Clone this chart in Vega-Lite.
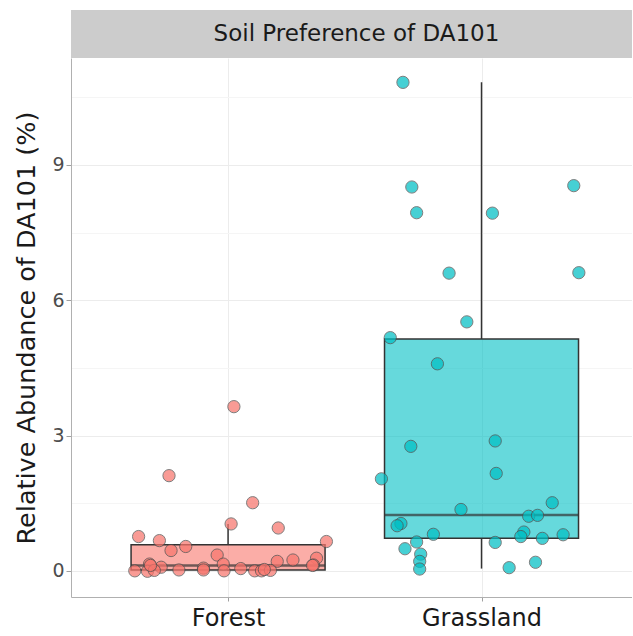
{
  "$schema": "https://vega.github.io/schema/vega-lite/v6.json",
  "autosize": "pad",
  "padding": {"left": 14, "top": 10, "right": 0, "bottom": 2},
  "background": "white",
  "bounds": "flush",
  "spacing": 0,
  "config": {
    "font": "DejaVu Sans",
    "view": {"stroke": null},
    "axis": {"labelFont": "DejaVu Sans", "titleFont": "DejaVu Sans"}
  },
  "datasets": {
    "pts": [
      {"soil": "Forest", "x": 1.023, "abundance": 3.64},
      {"soil": "Forest", "x": 0.767, "abundance": 2.11},
      {"soil": "Forest", "x": 1.097, "abundance": 1.51},
      {"soil": "Forest", "x": 1.012, "abundance": 1.04},
      {"soil": "Forest", "x": 1.198, "abundance": 0.95},
      {"soil": "Forest", "x": 0.647, "abundance": 0.76},
      {"soil": "Forest", "x": 0.729, "abundance": 0.67},
      {"soil": "Forest", "x": 1.388, "abundance": 0.65},
      {"soil": "Forest", "x": 0.833, "abundance": 0.54},
      {"soil": "Forest", "x": 0.775, "abundance": 0.45},
      {"soil": "Forest", "x": 0.957, "abundance": 0.35},
      {"soil": "Forest", "x": 1.349, "abundance": 0.28},
      {"soil": "Forest", "x": 1.256, "abundance": 0.24},
      {"soil": "Forest", "x": 1.194, "abundance": 0.21},
      {"soil": "Forest", "x": 0.69, "abundance": 0.15},
      {"soil": "Forest", "x": 1.337, "abundance": 0.13},
      {"soil": "Forest", "x": 0.981, "abundance": 0.15},
      {"soil": "Forest", "x": 0.736, "abundance": 0.08},
      {"soil": "Forest", "x": 0.903, "abundance": 0.06},
      {"soil": "Forest", "x": 0.632, "abundance": 0.0},
      {"soil": "Forest", "x": 0.682, "abundance": -0.01},
      {"soil": "Forest", "x": 0.709, "abundance": 0.01},
      {"soil": "Forest", "x": 0.806, "abundance": 0.02},
      {"soil": "Forest", "x": 0.984, "abundance": 0.0},
      {"soil": "Forest", "x": 1.105, "abundance": 0.0},
      {"soil": "Forest", "x": 1.132, "abundance": 0.0},
      {"soil": "Forest", "x": 1.167, "abundance": 0.01},
      {"soil": "Forest", "x": 0.694, "abundance": 0.12},
      {"soil": "Forest", "x": 1.143, "abundance": 0.03},
      {"soil": "Forest", "x": 1.05, "abundance": 0.05},
      {"soil": "Forest", "x": 1.333, "abundance": 0.12},
      {"soil": "Forest", "x": 0.903, "abundance": 0.02},
      {"soil": "Grassland", "x": 1.69, "abundance": 10.83},
      {"soil": "Grassland", "x": 1.725, "abundance": 8.51},
      {"soil": "Grassland", "x": 2.364, "abundance": 8.54},
      {"soil": "Grassland", "x": 1.744, "abundance": 7.94},
      {"soil": "Grassland", "x": 2.043, "abundance": 7.93},
      {"soil": "Grassland", "x": 1.872, "abundance": 6.6},
      {"soil": "Grassland", "x": 2.384, "abundance": 6.61},
      {"soil": "Grassland", "x": 1.942, "abundance": 5.52},
      {"soil": "Grassland", "x": 1.64, "abundance": 5.17},
      {"soil": "Grassland", "x": 1.826, "abundance": 4.59},
      {"soil": "Grassland", "x": 1.721, "abundance": 2.76},
      {"soil": "Grassland", "x": 2.054, "abundance": 2.88},
      {"soil": "Grassland", "x": 2.058, "abundance": 2.16},
      {"soil": "Grassland", "x": 1.605, "abundance": 2.04},
      {"soil": "Grassland", "x": 2.279, "abundance": 1.51},
      {"soil": "Grassland", "x": 1.919, "abundance": 1.36},
      {"soil": "Grassland", "x": 2.186, "abundance": 1.21},
      {"soil": "Grassland", "x": 2.221, "abundance": 1.23},
      {"soil": "Grassland", "x": 1.682, "abundance": 1.05},
      {"soil": "Grassland", "x": 1.667, "abundance": 1.0},
      {"soil": "Grassland", "x": 1.81, "abundance": 0.81},
      {"soil": "Grassland", "x": 2.167, "abundance": 0.86},
      {"soil": "Grassland", "x": 2.155, "abundance": 0.76},
      {"soil": "Grassland", "x": 2.322, "abundance": 0.8},
      {"soil": "Grassland", "x": 2.24, "abundance": 0.72},
      {"soil": "Grassland", "x": 1.744, "abundance": 0.64},
      {"soil": "Grassland", "x": 2.054, "abundance": 0.63},
      {"soil": "Grassland", "x": 1.698, "abundance": 0.49},
      {"soil": "Grassland", "x": 1.76, "abundance": 0.37},
      {"soil": "Grassland", "x": 1.756, "abundance": 0.21},
      {"soil": "Grassland", "x": 2.213, "abundance": 0.19},
      {"soil": "Grassland", "x": 1.756, "abundance": 0.04},
      {"soil": "Grassland", "x": 2.109, "abundance": 0.07}
    ],
    "box": [
      {"soil": "Forest", "x": 1, "lower": 0.0, "q1": 0.02, "median": 0.12, "q3": 0.58, "upper": 1.04},
      {"soil": "Grassland", "x": 2, "lower": 0.05, "q1": 0.72, "median": 1.24, "q3": 5.14, "upper": 10.83}
    ]
  },
  "vconcat": [
    {
      "width": 561,
      "height": 48,
      "view": {"fill": "#cccccc", "stroke": null},
      "data": {"values": [{"label": "Soil Preference of DA101"}]},
      "mark": {"type": "text", "fontSize": 23, "color": "#1a1a1a", "font": "DejaVu Sans", "dx": 5},
      "encoding": {"text": {"field": "label", "type": "nominal"}}
    },
    {
      "width": 561,
      "height": 539,
      "encoding": {
        "x": {
          "field": "x", "type": "quantitative",
          "scale": {"domain": [0.4, 2.574], "nice": false, "zero": false},
          "axis": {
            "title": null, "values": [1, 2],
            "labelExpr": "datum.value == 1 ? 'Forest' : 'Grassland'",
            "labelFontSize": 24, "labelColor": "#1a1a1a",
            "labelPadding": 5, "tickSize": 4, "tickColor": "#a0a0a0", "domainColor": "#b0b0b0",
            "grid": true, "gridColor": "#ececec", "gridWidth": 1
          }
        }
      },
      "layer": [
        {
          "data": {"name": "box"},
          "mark": {"type": "rule", "color": "#333333", "strokeWidth": 1.5},
          "encoding": {
            "y": {
              "field": "lower", "type": "quantitative",
              "scale": {"domain": [-0.58, 11.37], "nice": false, "zero": false},
              "axis": {
                "title": "Relative Abundance of DA101 (%)",
                "titleFontSize": 25.5, "titleFontWeight": "normal", "titleColor": "#1a1a1a",
                "titlePadding": 12,
                "values": [0, 1.5, 3, 4.5, 6, 7.5, 9, 10.5],
                "labelExpr": "datum.value % 3 == 0 ? datum.label : ''",
                "labelFontSize": 19, "labelColor": "#4d4d4d", "labelPadding": 2,
                "tickSize": 5, "tickColor": "#a0a0a0", "domainColor": "#b0b0b0",
                "tickOpacity": {"condition": {"test": "datum.value % 3 != 0", "value": 0}, "value": 1},
                "grid": true,
                "gridColor": {"condition": {"test": "datum.value % 3 != 0", "value": "#f5f5f5"}, "value": "#ececec"}
              }
            },
            "y2": {"field": "q1"}
          }
        },
        {
          "data": {"name": "box"},
          "mark": {"type": "rule", "color": "#333333", "strokeWidth": 1.5},
          "encoding": {
            "y": {"field": "q3", "type": "quantitative"},
            "y2": {"field": "upper"}
          }
        },
        {
          "data": {"name": "box"},
          "mark": {"type": "bar", "size": 194, "fillOpacity": 0.6, "stroke": "#333333", "strokeWidth": 1.5},
          "encoding": {
            "y": {"field": "q1", "type": "quantitative"},
            "y2": {"field": "q3"},
            "color": {
              "field": "soil", "type": "nominal", "legend": null,
              "scale": {"domain": ["Forest", "Grassland"], "range": ["#F8766D", "#00BFC4"]}
            }
          }
        },
        {
          "data": {"name": "box"},
          "mark": {"type": "tick", "orient": "horizontal", "size": 194, "thickness": 2.5, "color": "#333333"},
          "encoding": {
            "y": {"field": "median", "type": "quantitative"}
          }
        },
        {
          "data": {"name": "pts"},
          "mark": {"type": "point", "filled": true, "size": 150, "opacity": 0.72, "stroke": "#4d4d4d", "strokeWidth": 1},
          "encoding": {
            "y": {"field": "abundance", "type": "quantitative"},
            "color": {"field": "soil", "type": "nominal", "legend": null}
          }
        }
      ]
    }
  ]
}
